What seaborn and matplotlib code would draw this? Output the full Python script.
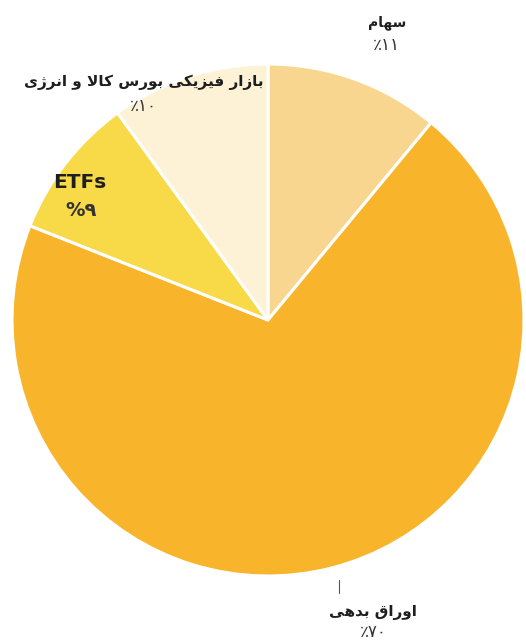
import matplotlib
matplotlib.use("Agg")
import matplotlib.pyplot as plt
import seaborn as sns

# data
labels = ["سهام", "اوراق بدهی", "ETFs", "بازار فیزیکی بورس کالا و انرژی"]
shares = [11, 70, 9, 10]
pct_text = ["٪۱۱", "٪۷۰", "%۹", "٪۱۰"]
colors = ["#F8D690", "#F8B52C", "#F8DA48", "#FDF2D6"]

# arabic letter forms: isolated, final, initial, medial (None = does not join left)
FORMS = {
    "ا": ("\uFE8D", "\uFE8E", None, None),
    "ب": ("\uFE8F", "\uFE90", "\uFE91", "\uFE92"),
    "د": ("\uFEA9", "\uFEAA", None, None),
    "ر": ("\uFEAD", "\uFEAE", None, None),
    "ز": ("\uFEAF", "\uFEB0", None, None),
    "ژ": ("\uFB8A", "\uFB8B", None, None),
    "س": ("\uFEB1", "\uFEB2", "\uFEB3", "\uFEB4"),
    "ف": ("\uFED1", "\uFED2", "\uFED3", "\uFED4"),
    "ق": ("\uFED5", "\uFED6", "\uFED7", "\uFED8"),
    "ک": ("\uFB8E", "\uFB8F", "\uFB90", "\uFB91"),
    "ل": ("\uFEDD", "\uFEDE", "\uFEDF", "\uFEE0"),
    "م": ("\uFEE1", "\uFEE2", "\uFEE3", "\uFEE4"),
    "ن": ("\uFEE5", "\uFEE6", "\uFEE7", "\uFEE8"),
    "ه": ("\uFEE9", "\uFEEA", "\uFEEB", "\uFEEC"),
    "و": ("\uFEED", "\uFEEE", None, None),
    "ی": ("\uFBFC", "\uFBFD", "\uFBFE", "\uFBFF"),
}


def shape(text):
    # very small persian shaper, returns visual (left-to-right) order
    if not any(c in FORMS for c in text):
        return text
    out = []
    i = 0
    while i < len(text):
        c = text[i]
        if c not in FORMS:
            out.append(c)
            i += 1
            continue
        prev = text[i - 1] if i > 0 else " "
        joins_prev = prev in FORMS and FORMS[prev][2] is not None
        if c == "ل" and i + 1 < len(text) and text[i + 1] == "ا":
            out.append("\uFEFC" if joins_prev else "\uFEFB")
            i += 2
            continue
        nxt = text[i + 1] if i + 1 < len(text) else " "
        joins_next = FORMS[c][2] is not None and nxt in FORMS
        iso, fin, ini, med = FORMS[c]
        if joins_prev and joins_next:
            out.append(med)
        elif joins_prev:
            out.append(fin)
        elif joins_next:
            out.append(ini)
        else:
            out.append(iso)
        i += 1
    return "".join(out)[::-1]


sns.set_theme(style="white")
plt.rcParams["font.family"] = ["DejaVu Sans"]

W, H = 526, 641
fig = plt.figure(figsize=(W / 100, H / 100), dpi=100)
cx, cy, R = 268, 320, 256
ax = fig.add_axes([(cx - R) / W, (H - cy - R) / H, 2 * R / W, 2 * R / H])
ax.pie(shares, colors=colors, startangle=90, counterclock=False,
       wedgeprops=dict(edgecolor="white", linewidth=2.2))
ax.set_xlim(-1, 1)
ax.set_ylim(-1, 1)
ax.axis("off")


def px(x, y):
    return (x - cx) / R, (cy - y) / R


# label positions in pixel coords of the reference
name_pos = [(387, 23), (373, 612), (80, 183), (144, 82)]
pct_pos = [(386, 45), (373, 632), (81, 210), (143, 106)]
name_size = [10, 11, 14.5, 11]
pct_size = [12, 12, 14, 12]
for i in range(len(labels)):
    x, y = px(*name_pos[i])
    ax.text(x, y, shape(labels[i]), ha="center", va="center",
            fontsize=name_size[i], fontweight="bold", color="#1e1e1e")
    x, y = px(*pct_pos[i])
    ax.text(x, y, shape(pct_text[i]), ha="center", va="center",
            fontsize=pct_size[i],
            fontweight="bold" if i == 2 else "normal", color="#333333")

# leader line for the big slice
x0, y0 = px(339, 580)
x1, y1 = px(339, 593)
ax.plot([x0, x1], [y0, y1], color="#555555", lw=0.8, clip_on=False)

fig.savefig("out.png", dpi=100, facecolor="white")
